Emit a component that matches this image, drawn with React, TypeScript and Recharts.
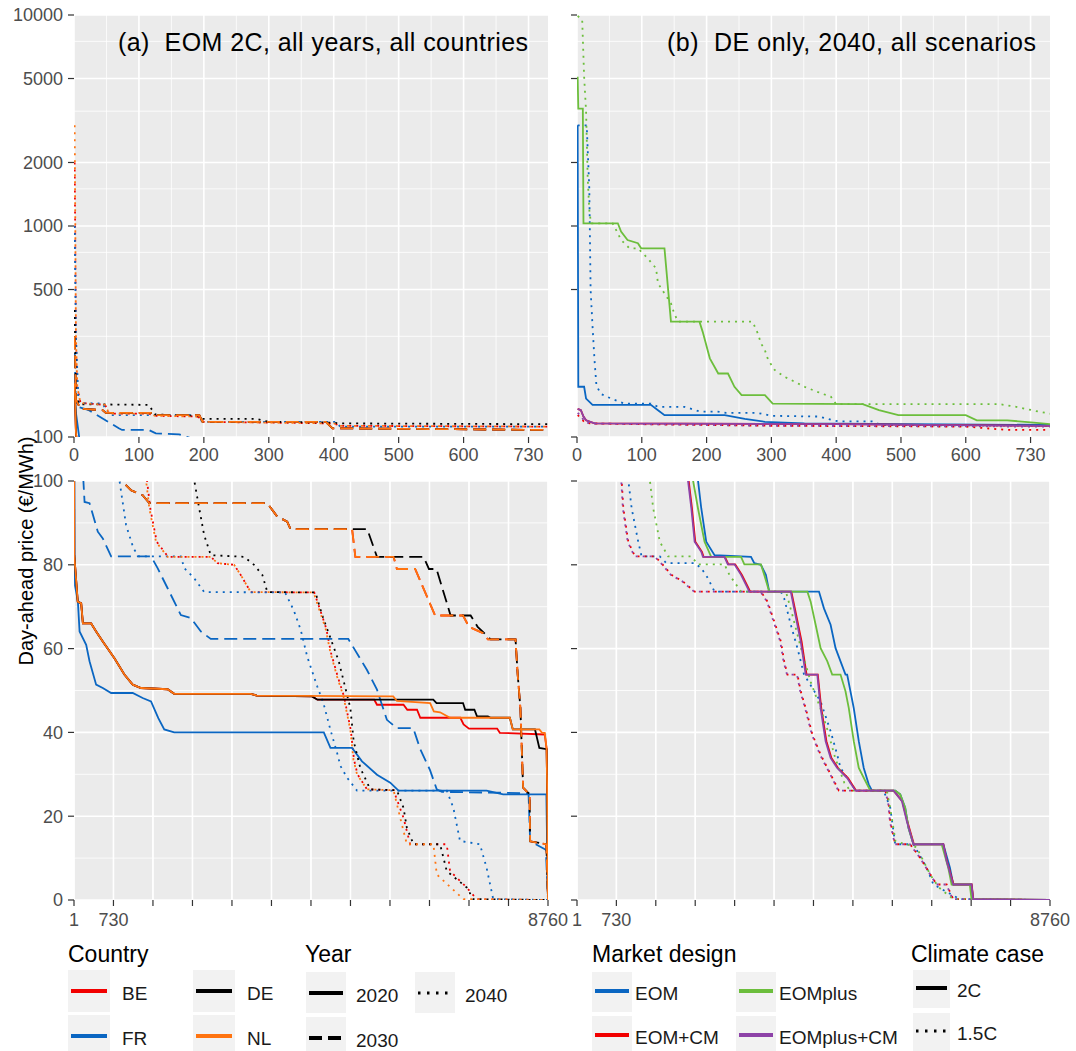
import React from 'react';
import { LineChart, Line, XAxis, YAxis, CartesianGrid } from 'recharts';

type Pt = [number, number];

// price duration curves: [hour of year, day-ahead price in EUR/MWh]

// panel (a): EOM 2C, per country and year
const BE_2020: Pt[] = [[1,180],[2,140],[3,105],[4,96.6],[6,82.3],[70,71.2],[134,70.8],[165,66],[318,66],[410,64.1],[533,61.7],[748,57.7],[932,53.8],[1086,51.4],[1240,50.6],[1731,50.3],[1853,49.2],[3266,49.2],[3380,48.8],[4400,48.6],[4500,47.8],[5550,47.8],[5600,46.6],[6090,46.6],[6160,45.4],[6340,45.4],[6400,43.5],[7140,43.5],[7200,41.9],[7300,40.9],[7820,40.9],[7870,39.9],[8700,39.5],[8735,36],[8745,26],[8752,12],[8760,0]];
const FR_2020: Pt[] = [[1,160],[3,130],[8,100],[11,81.5],[20,75],[73,71.2],[104,64.1],[226,60.9],[288,57],[410,51.4],[533,50.6],[687,49.4],[1086,49.4],[1270,48.2],[1424,47.4],[1559,43.4],[1669,40.7],[1853,40],[4617,40],[4740,36.3],[5139,36.3],[5323,33.1],[5600,29.9],[5845,28],[5998,26.1],[7625,26.1],[7932,25.2],[8730,25.2],[8745,12],[8760,0]];
const DE_2020: Pt[] = [[1,180],[2,140],[3,105],[4,96.6],[6,82.3],[70,71.2],[134,70.8],[165,66],[318,66],[410,64.1],[533,61.7],[748,57.7],[932,53.8],[1086,51.4],[1240,50.6],[1731,50.3],[1853,49.2],[3266,49.2],[3380,48.8],[4400,48.6],[4500,47.8],[6640,47.8],[6700,47],[7190,47],[7230,45.4],[7400,45.4],[7450,43.8],[7650,43.8],[7700,43.5],[8055,43.5],[8110,40.7],[8520,40.7],[8600,36.3],[8735,36],[8745,26],[8752,12],[8760,0]];
const NL_2020: Pt[] = [[1,180],[2,140],[3,105],[4,96.6],[6,82.3],[70,71.2],[134,70.8],[165,66],[318,66],[410,64.1],[533,61.7],[748,57.7],[932,53.8],[1086,51.4],[1240,50.6],[1731,50.3],[1853,49.2],[3266,49.2],[3380,48.8],[5900,48.6],[5968,47.5],[6582,47],[6650,45],[6766,44.8],[6950,43.5],[8055,43.5],[8110,40.7],[8600,40.7],[8650,39.9],[8700,39.9],[8735,36],[8745,26],[8752,12],[8760,0]];

const BE_2030: Pt[] = [[1,300],[3,150],[10,136],[44,134],[49,130],[121,130],[125,127],[193,127],[198,118],[388,118],[398,110],[727,108],[871,100.2],[1055,97.8],[1270,96.6],[1393,94.7],[3573,94.7],[3757,91.5],[3941,90.3],[4003,88.5],[5140,88.5],[5200,81.9],[5906,81.9],[5968,79],[6305,79],[6674,67.9],[7190,67.9],[7300,65.2],[7560,63.7],[7650,62.2],[8160,62.2],[8200,53.8],[8250,45.8],[8300,26.8],[8420,25.2],[8430,14],[8730,13.3],[8760,0]];
const FR_2030: Pt[] = [[1,250],[3,140],[23,134],[69,110],[74,108],[115,108],[126,104],[162,103],[196,95],[288,94.7],[441,87.9],[533,86.3],[687,82],[1424,82],[1546,79.2],[1731,74.4],[1976,68],[2160,67.3],[2345,64.1],[2529,62.3],[5070,62.3],[5415,54.9],[5600,50.2],[5783,43],[5968,41],[6270,41],[6400,36],[6580,31],[6704,26.4],[6800,25.8],[8400,25.5],[8430,14],[8720,12],[8760,0]];
const DE_2030: Pt[] = [[1,300],[3,150],[10,136],[44,134],[49,130],[121,130],[125,127],[193,127],[198,118],[388,118],[398,110],[727,108],[871,100.2],[1055,97.8],[1270,96.6],[1393,94.7],[3573,94.7],[3757,91.5],[3941,90.3],[4003,88.5],[5420,88.5],[5600,81.9],[6460,81.9],[6560,79],[6700,79],[6960,67.9],[7330,67.9],[7460,65.2],[7700,62.2],[8160,62.2],[8200,53.8],[8250,45.8],[8300,26.8],[8420,25.2],[8430,14],[8730,13.3],[8760,0]];
const NL_2030: Pt[] = [[1,300],[3,150],[10,136],[44,134],[49,130],[121,130],[125,127],[193,127],[198,118],[388,118],[398,110],[727,108],[871,100.2],[1055,97.8],[1270,96.6],[1393,94.7],[3573,94.7],[3757,91.5],[3941,90.3],[4003,88.5],[5140,88.5],[5200,81.9],[5906,81.9],[5968,79],[6305,79],[6674,67.9],[7190,67.9],[7300,65.2],[7560,63.7],[7650,62.2],[8160,62.2],[8200,53.8],[8250,45.8],[8300,26.8],[8420,25.2],[8430,14],[8730,13.3],[8760,0]];

const BE_2040: Pt[] = [[1,2000],[2,800],[3,300],[5,173],[10,145],[48,142],[54,129],[115,129],[125,126],[190,125],[200,118],[400,116],[410,113],[730,112],[1350,100.2],[1410,93.5],[1530,85.5],[1740,81.9],[2529,81.9],[2652,80.4],[2959,80],[3081,77.6],[3266,73.5],[4440,73.4],[4540,69.6],[4660,64.9],[4750,59],[4875,53.3],[4990,48.6],[5115,40.6],[5175,33.5],[5240,30],[5415,26.4],[5906,26.2],[6090,19.6],[6213,13.3],[6889,13.3],[6950,6.9],[7257,3],[7441,0.2],[8760,0]];
const FR_2040: Pt[] = [[1,1000],[3,300],[7,145],[44,144],[54,127],[187,127],[198,118],[403,118],[410,112],[727,112],[840,100.2],[963,89.5],[1100,83.9],[1200,82],[1976,82],[2038,79.2],[2222,76.8],[2406,73.5],[3900,73.4],[4060,69.2],[4190,64.5],[4310,58.1],[4495,51],[4610,47],[4740,40.6],[4863,35.1],[4924,32],[5047,29.2],[5231,26.1],[6889,26.1],[7011,22],[7134,14.1],[7502,13.3],[7625,7.7],[7748,0.2],[8760,0]];
const DE_2040: Pt[] = [[1,400],[3,160],[8,143],[115,142],[125,128],[190,126],[198,122],[280,122],[300,118],[400,117],[410,116],[730,115],[2222,100.2],[2314,93.5],[2406,87.1],[2529,82.3],[3143,81.9],[3327,80],[3481,77.6],[3573,73.5],[4463,73.4],[4586,68],[4740,62.5],[4893,57],[4985,52.2],[5108,45.8],[5169,37.9],[5292,31.5],[5476,26.4],[5968,26.2],[6090,22],[6152,17.2],[6275,13.3],[6766,13.3],[6889,6.9],[7257,3],[7380,0.2],[8760,0]];
const NL_2040: Pt[] = [[1,3000],[2,1000],[3,300],[5,173],[10,145],[48,142],[54,129],[115,129],[125,126],[190,125],[200,118],[400,116],[410,113],[730,112],[1332,100.2],[1393,93.5],[1516,85.5],[1731,81.9],[2529,81.9],[2652,80.4],[2959,80],[3081,77.6],[3266,73.5],[4430,73.4],[4525,69.6],[4648,64.9],[4740,59],[4863,53.3],[4980,48.6],[5108,40.6],[5165,33.5],[5231,30],[5415,26.4],[5906,26.2],[6029,19.6],[6152,13.3],[6643,13.3],[6704,6.1],[7196,0.2],[8760,0]];

// panel (b): DE only, 2040, per market design and climate case
const EOM_2C: Pt[] = [[1,3000],[2,173],[11,173],[14,152],[24,142],[114,142],[125,134],[135,127],[228,127],[259,122],[290,118],[351,116],[730,114],[2241,100.2],[2302,93.5],[2394,85.5],[2548,82.3],[3223,81.9],[3284,80.4],[3407,80],[3499,77.6],[3561,73.6],[4482,73.6],[4574,69.6],[4697,65.7],[4789,60.1],[4973,53.8],[5004,53.8],[5065,49.8],[5126,45.8],[5219,37.9],[5311,31.5],[5403,27.6],[5464,26.1],[5894,26.1],[5986,25.2],[6078,22],[6140,17.2],[6232,13.3],[6784,13.3],[6907,7.7],[6968,3.7],[7306,3.7],[7337,0.2],[8760,0]];
const EOM_15C: Pt[] = [[1,3000],[15,3000],[19,1500],[21,500],[24,333],[27,232],[30,175],[37,160],[53,152],[73,144],[114,144],[125,139],[166,139],[190,132],[217,132],[230,130],[279,130],[300,126],[374,125],[395,120],[405,118.5],[455,118.5],[470,114],[730,113],[951,100.2],[1013,93.5],[1135,85.5],[1197,82],[1535,82],[1657,80.4],[2179,80.4],[2302,79.2],[2425,76.8],[2548,73.6],[3776,73.6],[3837,72],[3960,65.7],[4083,60.1],[4144,57],[4205,53.8],[4512,47.4],[4697,40.3],[4819,34.7],[4881,31.5],[5126,26.8],[5188,26.1],[5679,26.1],[5802,22],[5894,13.3],[6232,13.3],[6477,7.7],[6600,3.7],[7091,0.2],[8760,0]];
const EOMCM_2C: Pt[] = [[1,136],[6,134],[10,125],[14,120],[27,116],[400,115],[730,113],[2068,100.2],[2130,93.5],[2192,85.5],[2315,83.1],[2345,81.9],[2740,81.9],[2805,80.1],[2930,80.1],[3055,77.6],[3147,75.2],[3208,73.6],[3970,73.6],[4035,69.6],[4160,61.7],[4252,53.8],[4460,53.8],[4524,45.8],[4620,37.9],[4712,33.9],[4835,31.5],[5020,29.1],[5170,26.1],[5863,26.1],[6025,23.6],[6118,18.8],[6240,13.3],[6784,13.3],[6850,9.3],[6975,3.7],[7310,3.7],[7340,0.2],[8760,0]];
const EOMCM_15C: Pt[] = [[1,127],[5,124],[12,117],[20,116],[100,115],[300,113],[600,112],[664,108],[730,108],[828,100.2],[859,93.5],[951,85.5],[1074,82],[1442,82],[1565,80.4],[1749,77.6],[1964,76],[2179,73.6],[3407,73.6],[3530,71.2],[3653,66.5],[3776,61.7],[3837,57],[3898,53.8],[4083,53.8],[4144,49.8],[4236,45.8],[4359,39.5],[4512,34.7],[4697,30],[4850,26.1],[5710,26.1],[5771,23.6],[5802,18.8],[5894,13.3],[6170,13.3],[6354,10.1],[6661,3.7],[6846,3.7],[6968,0.2],[8760,0]];
const EOMPLUS_2C: Pt[] = [[1,5100],[2,3600],[9,3600],[10,1030],[63,1030],[68,940],[78,858],[94,829],[99,784],[135,784],[145,352],[189,352],[194,315],[205,236],[218,200],[233,200],[243,173],[254,158],[290,158],[295,152],[302,144],[441,143],[466,134],[496,127],[600,127],[617,120],[664,120],[705,117],[730,115],[2149,100.2],[2241,93.5],[2363,85.5],[2486,81.9],[3039,81.9],[3100,80.1],[3407,80.1],[3469,77.6],[3561,73.6],[4267,73.6],[4328,71.2],[4420,65.7],[4512,60.1],[4635,57],[4727,53.8],[4881,53.8],[4973,49.8],[5034,45.8],[5126,37.9],[5219,31.5],[5341,28.4],[5433,26.1],[5894,26.1],[5986,25.2],[6078,22],[6140,17.2],[6232,13.3],[6754,13.3],[6876,7.7],[6938,3.7],[7275,3.7],[7306,0.2],[8760,0]];
const EOMPLUS_15C: Pt[] = [[1,9900],[8,9500],[11,5100],[14,3500],[16.5,1690],[19,1190],[21.6,1030],[55,1030],[57.7,993],[68,859],[81,784],[94,784],[109,703],[122,630],[125,535],[135,479],[145,430],[150,385],[156,352],[271,352],[279,310],[284,278],[290,258],[295,232],[305,208],[320,193],[331,186],[351,173],[377,161],[392,155],[400,143],[653,143],[678,139],[712,132],[730,129],[1350,100.2],[1412,93.5],[1535,85.5],[1688,82],[2118,82],[2241,80.1],[2732,80.1],[2824,77.6],[3039,73.6],[3870,73.6],[3990,68],[4150,60],[4330,52],[4530,45],[4630,41],[4780,34],[4950,28],[5060,26.1],[5740,26.1],[5800,22],[5850,18],[5900,14],[6290,12.6],[6540,6.1],[6700,3],[6968,0.2],[8760,0]];
const EOMPLUSCM_2C: Pt[] = [[1,136],[6,134],[10,125],[14,120],[27,116],[400,115],[730,113],[2056,100.2],[2118,93.5],[2179,85.5],[2302,83.1],[2333,81.9],[2732,81.9],[2793,80.1],[2916,80.1],[3039,77.6],[3131,75.2],[3192,73.6],[3960,73.6],[4021,69.6],[4144,61.7],[4236,53.8],[4451,53.8],[4512,45.8],[4605,37.9],[4697,33.9],[4819,31.5],[5004,29.1],[5157,26.1],[5863,26.1],[6017,23.6],[6109,18.8],[6232,13.3],[6784,13.3],[6846,9.3],[6968,3.7],[7306,3.7],[7337,0.2],[8760,0]];
const EOMPLUSCM_15C: Pt[] = [[1,130],[5,127],[12,118],[20,116],[100,115],[300,113],[730,112],[820,100.2],[850,93.5],[940,85.5],[1065,82],[1435,82],[1555,80.4],[1740,77.6],[1955,76],[2170,73.6],[3400,73.6],[3520,71.2],[3640,66.5],[3765,61.7],[3825,57],[3890,53.8],[4075,53.8],[4135,49.8],[4225,45.8],[4350,39.5],[4500,34.7],[4690,30],[4840,26.1],[5700,26.1],[5760,23.6],[5795,18.8],[5885,13.3],[6165,13.3],[6350,10.1],[6655,3.7],[6840,3.7],[6960,0.2],[8760,0]];

// legend categories
const COUNTRIES = ['BE', 'FR', 'DE', 'NL'];
const YEARS = ['2020', '2030', '2040'];
const DESIGNS = ['EOM', 'EOM+CM', 'EOMplus', 'EOMplus+CM'];
const CLIMATE = ['2C', '1.5C'];

// axis ticks
const X_TOP_TICKS = [0, 100, 200, 300, 400, 500, 600, 700];
const X_TOP_MINOR = [50, 150, 250, 350, 450, 550, 650];
const Y_TOP_TICKS = [100, 500, 1000, 2000, 5000, 10000];
const Y_TOP_MINOR = [300, 750, 1500, 3500, 7500];
const X_BOT_TICKS = [1, 730, 1460, 2190, 2920, 3650, 4380, 5110, 5840, 6570, 7300, 8030, 8760];
const X_BOT_LABELS = [1, 730, 8760];
const Y_BOT_TICKS = [0, 20, 40, 60, 80, 100];
const Y_BOT_MINOR = [10, 30, 50, 70, 90];

const COUNTRY_COLOR: Record<string, string> = { BE: '#F20000', FR: '#0A66C2', DE: '#000000', NL: '#FF7410' };
const DESIGN_COLOR: Record<string, string> = { EOM: '#0A66C2', 'EOM+CM': '#F20000', EOMplus: '#6CBE3C', 'EOMplus+CM': '#8E43A8' };
const DASH: Record<string, string | undefined> = { '2020': undefined, '2030': '13 6', '2040': '2 5', '2C': undefined, '1.5C': '2 5' };

type Series = { key: string; pts: Pt[]; color: string; dash?: string };

const S = (key: string, pts: Pt[], color: string, dash?: string): Series => ({ key, pts, color, dash });

// drawing order follows the legend order: BE, FR, DE, NL
const PANEL_A: Series[] = [
  S('BE2020', BE_2020, COUNTRY_COLOR.BE, DASH['2020']),
  S('BE2030', BE_2030, COUNTRY_COLOR.BE, DASH['2030']),
  S('BE2040', BE_2040, COUNTRY_COLOR.BE, DASH['2040']),
  S('FR2020', FR_2020, COUNTRY_COLOR.FR, DASH['2020']),
  S('FR2030', FR_2030, COUNTRY_COLOR.FR, DASH['2030']),
  S('FR2040', FR_2040, COUNTRY_COLOR.FR, DASH['2040']),
  S('DE2020', DE_2020, COUNTRY_COLOR.DE, DASH['2020']),
  S('DE2030', DE_2030, COUNTRY_COLOR.DE, DASH['2030']),
  S('DE2040', DE_2040, COUNTRY_COLOR.DE, DASH['2040']),
  S('NL2020', NL_2020, COUNTRY_COLOR.NL, DASH['2020']),
  S('NL2030', NL_2030, COUNTRY_COLOR.NL, DASH['2030']),
  S('NL2040', NL_2040, COUNTRY_COLOR.NL, DASH['2040']),
];

const PANEL_B: Series[] = [
  S('EOM2C', EOM_2C, DESIGN_COLOR.EOM, DASH['2C']),
  S('EOM15C', EOM_15C, DESIGN_COLOR.EOM, DASH['1.5C']),
  S('EOMCM2C', EOMCM_2C, DESIGN_COLOR['EOM+CM'], DASH['2C']),
  S('EOMCM15C', EOMCM_15C, DESIGN_COLOR['EOM+CM'], DASH['1.5C']),
  S('EOMplus2C', EOMPLUS_2C, DESIGN_COLOR.EOMplus, DASH['2C']),
  S('EOMplus15C', EOMPLUS_15C, DESIGN_COLOR.EOMplus, DASH['1.5C']),
  S('EOMplusCM2C', EOMPLUSCM_2C, DESIGN_COLOR['EOMplus+CM'], DASH['2C']),
  S('EOMplusCM15C', EOMPLUSCM_15C, DESIGN_COLOR['EOMplus+CM'], DASH['1.5C']),
];

const FONT = '"Liberation Sans", Arial, Helvetica, sans-serif';
const TICK = { fill: '#4D4D4D', fontSize: 18 };
const TICK_LINE = { stroke: '#333333', strokeWidth: 1.2 };

const toRows = (pts: Pt[]) => pts.map(([h, p]) => ({ h, p }));
// the log panel only needs the first part of the year
const toTopRows = (pts: Pt[]) => toRows(pts.filter(([h, p]) => h <= 2500 && p > 0));

type PanelProps = { series: Series[]; left: number; top: number; first: boolean; log: boolean };

const Panel = ({ series, left, top, first, log }: PanelProps) => {
  // left charts are a bit wider than their slot so the last x label is not cut
  const width = first ? 580 : 516;
  const right = first ? 32 : 26;
  return (
    <div style={{ position: 'absolute', left, top }}>
      <LineChart
        width={width}
        height={470}
        margin={{ top: log ? 15 : 11, right, bottom: 0, left: 0 }}
      >
        <CartesianGrid
          fill="#EBEBEB"
          stroke="#FFFFFF"
          strokeWidth={0.8}
          horizontalValues={log ? Y_TOP_MINOR : Y_BOT_MINOR}
          verticalValues={log ? X_TOP_MINOR : []}
        />
        <CartesianGrid
          stroke="#FFFFFF"
          strokeWidth={1.6}
          horizontalValues={log ? Y_TOP_TICKS : Y_BOT_TICKS}
          verticalValues={log ? X_TOP_TICKS : X_BOT_TICKS}
        />
        <XAxis
          type="number"
          dataKey="h"
          domain={log ? [0, 730] : [1, 8760]}
          allowDataOverflow
          ticks={log ? X_TOP_TICKS : X_BOT_TICKS}
          interval={0}
          tickFormatter={
            log
              ? (v: number) => (v === 700 ? '730' : String(v))
              : (v: number) => (X_BOT_LABELS.includes(v) ? String(v) : '')
          }
          axisLine={false}
          tickLine={TICK_LINE}
          tickSize={6}
          tickMargin={log ? 5 : 7}
          tick={TICK}
          height={log ? 33 : 40}
        />
        <YAxis
          type="number"
          dataKey="p"
          scale={log ? 'log' : 'linear'}
          domain={log ? [100, 10000] : [0, 100]}
          allowDataOverflow
          ticks={log ? Y_TOP_TICKS : Y_BOT_TICKS}
          interval={0}
          tickFormatter={first ? (v: number) => String(v) : () => ''}
          axisLine={false}
          tickLine={TICK_LINE}
          tickSize={6}
          tickMargin={5}
          tick={TICK}
          width={first ? 74 : 17}
        />
        {series.map((s) => (
          <Line
            key={s.key}
            data={log ? toTopRows(s.pts) : toRows(s.pts)}
            dataKey="p"
            type="linear"
            stroke={s.color}
            strokeWidth={1.8}
            strokeDasharray={s.dash}
            dot={false}
            activeDot={false}
            isAnimationActive={false}
          />
        ))}
      </LineChart>
    </div>
  );
};

type KeyItem = { label: string; color: string; dash?: string; col: number; row: number };

const LegendBlock = ({
  title, x, titleY, items, boxX, boxY, colStep, rowStep, boxW, boxH, lineOff, labelOff, lineW,
}: {
  title: string; x: number; titleY: number; items: KeyItem[]; boxX: number; boxY: number;
  colStep: number; rowStep: number; boxW: number; boxH: number; lineOff: number; labelOff: number;
  lineW: number;
}) => (
  <g>
    <text x={x} y={titleY} fontSize={23} fill="#000">{title}</text>
    {items.map((it) => {
      const bx = boxX + it.col * colStep;
      const by = boxY + it.row * rowStep;
      const ly = by + lineOff;
      const isDot = it.dash === DASH['2040'];
      return (
        <g key={it.label}>
          <rect x={bx} y={by} width={boxW} height={boxH} fill="#F2F2F2" />
          <line
            x1={bx + 3}
            x2={bx + boxW - 3}
            y1={ly}
            y2={ly}
            stroke={it.color}
            strokeWidth={isDot ? 3 : lineW}
            strokeDasharray={isDot ? '2.5 6.5' : it.dash ? '13 6' : undefined}
          />
          <text x={bx + labelOff} y={ly + 2} fontSize={19} fill="#1A1A1A" dominantBaseline="central">
            {it.label}
          </text>
        </g>
      );
    })}
  </g>
);

const Overlay = () => {
  const countryItems: KeyItem[] = COUNTRIES.map((c, i) => ({ label: c, color: COUNTRY_COLOR[c], col: Math.floor(i / 2), row: i % 2 }));
  const yearItems: KeyItem[] = YEARS.map((y, i) => ({ label: y, color: '#000', dash: DASH[y], col: Math.floor(i / 2), row: i % 2 }));
  const designItems: KeyItem[] = DESIGNS.map((d, i) => ({ label: d, color: DESIGN_COLOR[d], col: Math.floor(i / 2), row: i % 2 }));
  const climateItems: KeyItem[] = CLIMATE.map((c, i) => ({ label: c, color: '#000', dash: DASH[c] ? DASH['2040'] : undefined, col: 0, row: i }));
  return (
    <svg width={1076} height={1051} style={{ position: 'absolute', left: 0, top: 0, pointerEvents: 'none' }}>
      <text x={118} y={51} fontSize={25} fill="#000" textLength={410} lengthAdjust="spacing" style={{ whiteSpace: 'pre' }}>
        {'(a)  EOM 2C, all years, all countries'}
      </text>
      <text x={667} y={51} fontSize={25} fill="#000" textLength={369} lengthAdjust="spacing" style={{ whiteSpace: 'pre' }}>
        {'(b)  DE only, 2040, all scenarios'}
      </text>
      <text transform="translate(33,551) rotate(-90)" textAnchor="middle" fontSize={20} fill="#000">
        Day-ahead price (€/MWh)
      </text>
      <LegendBlock title="Country" x={68} titleY={962} items={countryItems} boxX={68} boxY={970} colStep={125} rowStep={45}
        boxW={42} boxH={42} lineOff={21} labelOff={54} lineW={4} />
      <LegendBlock title="Year" x={305} titleY={962} items={yearItems} boxX={306} boxY={972} colStep={109} rowStep={45}
        boxW={40} boxH={41} lineOff={21} labelOff={50} lineW={4} />
      <LegendBlock title="Market design" x={592} titleY={962} items={designItems} boxX={592} boxY={972} colStep={144} rowStep={44}
        boxW={40} boxH={40} lineOff={19} labelOff={43} lineW={4} />
      <LegendBlock title="Climate case" x={911} titleY={962} items={climateItems} boxX={913} boxY={970} colStep={0} rowStep={43}
        boxW={37} boxH={38} lineOff={18} labelOff={44} lineW={4} />
    </svg>
  );
};

export default function App() {
  return (
    <div style={{ position: 'absolute', left: 0, top: 0, width: 1076, height: 1051, background: '#FFFFFF', fontFamily: FONT }}>
      <Panel series={PANEL_A} left={0} top={0} first log />
      <Panel series={PANEL_B} left={560} top={0} first={false} log />
      <Panel series={PANEL_A} left={0} top={470} first log={false} />
      <Panel series={PANEL_B} left={560} top={470} first={false} log={false} />
      <Overlay />
    </div>
  );
}
